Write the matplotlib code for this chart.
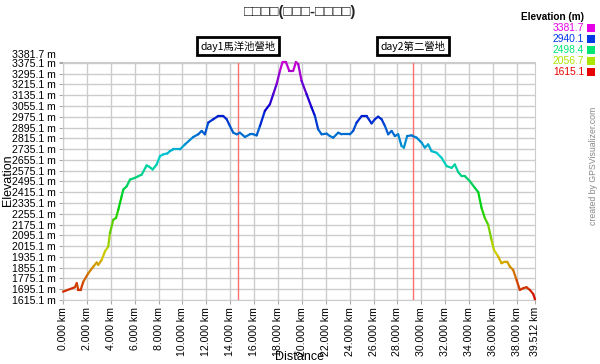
import colorsys
import matplotlib

matplotlib.use("Agg")
import matplotlib.pyplot as plt
import matplotlib.transforms as mtransforms
from matplotlib.collections import LineCollection
import numpy as np

plt.rcParams["font.family"] = ["Liberation Sans", "DejaVu Sans"]

# ---- data ----
dist_km = [0.00, 1.00, 1.15, 1.28, 1.48, 1.70, 2.12, 2.54, 2.82, 2.95, 3.24, 3.51,
           3.79, 3.93, 4.21, 4.44, 4.63, 4.91, 5.05, 5.33, 5.61, 6.03, 6.30, 6.59,
           7.00, 7.22, 7.51, 7.84, 8.12, 8.39, 8.73, 8.95, 9.23, 9.79, 10.21, 10.90,
           11.32, 11.61, 11.88, 12.16, 12.58, 13.00, 13.41, 13.70, 13.97, 14.25, 14.54,
           14.81, 15.23, 15.65, 15.92, 16.21, 16.49, 16.90, 17.32, 17.60, 17.88, 18.16,
           18.38, 18.66, 18.94, 19.27, 19.50, 19.69, 19.97, 20.39, 20.81, 21.09, 21.36,
           21.65, 22.07, 22.34, 22.62, 23.04, 23.32, 24.02, 24.29, 24.58, 25.00, 25.41,
           25.83, 26.11, 26.38, 26.67, 26.95, 27.22, 27.51, 27.78, 28.06, 28.34, 28.54,
           28.81, 29.18, 29.60, 30.02, 30.29, 30.57, 30.85, 31.27, 31.69, 32.11, 32.53,
           32.80, 33.08, 33.37, 33.64, 34.06, 34.48, 34.76, 35.04, 35.31, 35.59, 35.87,
           36.07, 36.43, 36.71, 36.99, 37.18, 37.41, 37.68, 37.97, 38.24, 38.51, 38.80,
           39.08, 39.36, 39.512]
elev_m = [1677, 1710, 1740, 1690, 1690, 1751, 1814, 1863, 1893, 1876, 1913, 1975,
          2012, 2112, 2211, 2224, 2286, 2385, 2435, 2459, 2509, 2522, 2534, 2546,
          2614, 2604, 2584, 2621, 2683, 2696, 2703, 2720, 2733, 2733, 2770, 2825,
          2845, 2870, 2845, 2932, 2957, 2981, 2981, 2957, 2907, 2857, 2845,
          2857, 2825, 2845, 2845, 2837, 2907, 3019, 3068, 3143, 3217, 3316,
          3381.7, 3381.7, 3316, 3316, 3381.7, 3366, 3242, 3143, 3044, 2981, 2882,
          2845, 2850, 2832, 2820, 2857, 2845, 2845, 2870, 2932, 2981, 2981,
          2926, 2957, 2976, 2957, 2907, 2845, 2870, 2832, 2845, 2758, 2746,
          2832, 2837, 2820, 2783, 2746, 2770, 2720, 2708, 2671, 2609, 2596,
          2621, 2565, 2534, 2534, 2497, 2447, 2416, 2298, 2224, 2174, 2062,
          1988, 1938, 1888, 1900, 1900, 1863, 1839, 1764, 1690, 1702, 1710,
          1690, 1660, 1620]

camp_km = [14.64, 29.29]
camp_labels = ["day1馬洋池營地", "day2第二營地"]

legend_vals = [3381.7, 2940.1, 2498.4, 2056.7, 1615.1]
elev_min, elev_max = 1615.1, 3381.7
dist_max = 39.512

ytick_vals = [1615.1 + 80 * k for k in range(23)] + [elev_max]
xtick_vals = list(range(0, 40, 2)) + [dist_max]


def elev_color(e, v=0.82):
    t = (e - elev_min) / (elev_max - elev_min)
    return colorsys.hsv_to_rgb(t * 300 / 360, 1.0, v)


fig = plt.figure(figsize=(6, 3.64), dpi=100)
ax = fig.add_axes([63 / 600, 64 / 364, 472 / 600, 238 / 364])
ax.set_xlim(0, dist_max)
ax.set_ylim(elev_min, elev_max)

# grid
for yv in ytick_vals:
    ax.axhline(yv, color="#cccccc", lw=1.0, zorder=0)
for xv in range(0, 40, 2):
    ax.axvline(xv, color="#cccccc", lw=1.0, zorder=0)

# camp markers
for c in camp_km:
    ax.axvline(c, color="#ff7070", lw=1.0, zorder=1)

# elevation line, coloured by height
pts = np.column_stack([dist_km, elev_m])
segs = np.stack([pts[:-1], pts[1:]], axis=1)
seg_col = [elev_color((a + b) / 2) for a, b in zip(elev_m[:-1], elev_m[1:])]
lc = LineCollection(segs, colors=seg_col, linewidths=1.6, capstyle="round",
                    joinstyle="round", zorder=3, clip_on=False)
ax.add_collection(lc)

for s in ax.spines.values():
    s.set_color("#cccccc")

ax.set_yticks(ytick_vals)
ax.set_yticklabels([f"{v:.1f} m" for v in ytick_vals], fontsize=7.6)
ax.set_xticks(xtick_vals)
ax.set_xticklabels([f"{v:.3f} km" for v in xtick_vals], rotation=90, fontsize=7.6)
ax.tick_params(axis="both", length=3, color="#aaaaaa", pad=2)
# lift the top label so it does not collide with 3375.1
top_lab = ax.get_yticklabels()[-1]
top_lab.set_transform(top_lab.get_transform()
                      + mtransforms.ScaledTranslation(0, 0.085, fig.dpi_scale_trans))

fig.text(8 / 600, 1 - 180 / 364, "Elevation", rotation=90, ha="center", va="center",
         fontsize=9)
fig.text(300 / 600, 1 - 357 / 364, "Distance", ha="center", va="center", fontsize=9)

fig.text(0.5, 1 - 12 / 364, "□□□□(□□□-□□□□)", ha="center", va="center",
         fontsize=10.5, fontweight="bold", color="#222222")

# camp label boxes above the plot
trans = mtransforms.blended_transform_factory(ax.transData, ax.transAxes)
for c, lab in zip(camp_km, camp_labels):
    ax.text(c, 1 + 16 / 238, lab, transform=trans, ha="center", va="center",
            fontsize=7.5, family=["Noto Sans CJK TC", "DejaVu Sans"],
            bbox=dict(boxstyle="square,pad=0.35", fc="white", ec="black", lw=2),
            zorder=5)

# elevation legend (top right)
fig.text(584 / 600, 1 - 17 / 364, "Elevation (m)", ha="right", va="center",
         fontsize=7.2, fontweight="bold")
for i, v in enumerate(legend_vals):
    yy = 1 - (28 + 11 * i) / 364
    col = elev_color(v, 0.9)
    fig.text(584 / 600, yy, f"{v:.1f}", ha="right", va="center", fontsize=7.4,
             color=col)
    fig.patches.append(plt.Rectangle((587 / 600, yy - 4 / 364), 8 / 600, 8 / 364,
                                     transform=fig.transFigure, fc=col, ec="none"))

fig.text(594 / 600, 1 - 166 / 364, "created by GPSVisualizer.com", rotation=90,
         ha="center", va="center", fontsize=6.3, color="#888888")

fig.savefig("out.png", dpi=100)
